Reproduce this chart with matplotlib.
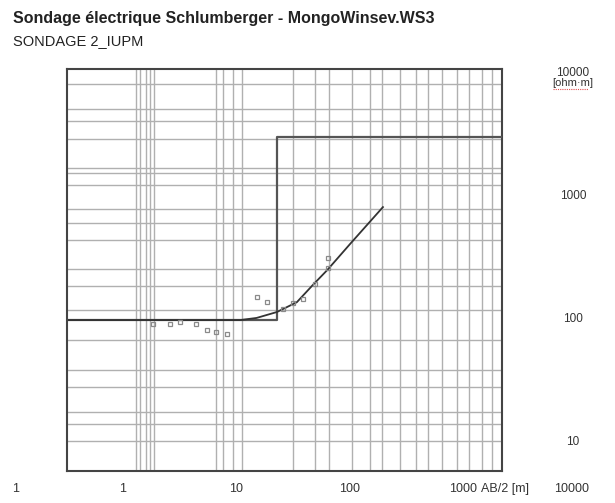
import matplotlib.pyplot as plt
from matplotlib.lines import Line2D

# measured apparent resistivity (AB/2 in m, rho_a in ohm.m)
ab2 = [1.84, 2.6, 3.2, 4.4, 5.5, 6.6, 8.2, 15.2, 18.6, 25.7, 31.5, 38.5, 49, 64, 64]
rho_a = [91, 91, 95, 91, 81, 78, 75, 151, 137, 120, 135, 146, 193, 260, 313]

# calculated sounding curve
curve_x = [0.33, 1, 3, 8, 10.7, 15, 22.7, 34, 47, 63, 100, 195]
curve_y = [98, 98, 98, 98, 98, 102, 114, 137, 189, 250, 407, 813]

# two layer model
layer_rho = [98, 3000]
layer_depth = [22.7]

# grid lines as drawn by the software
grid_x = [1.30, 1.41, 1.59, 1.73, 1.88, 6.6, 7.6, 9.32, 11.2, 31.5, 49.2, 65.3,
          104, 150, 191, 276, 381, 487, 647, 876, 1118, 1456, 1783]
grid_y = [8140, 5090, 4070, 2905, 1690, 1540, 1230, 784, 603, 439, 255, 185,
          118, 67.4, 38.5, 28, 17.5, 14.0, 10.2]

x_labels = ["1", "1", "10", "100", "1000", "10000"]
x_label_pos = [0.112, 1, 10, 100, 1000, 9040]
y_labels = ["10000", "1000", "100", "10"]
y_label_pos = [10000, 1000, 100, 10]

plt.rcParams["font.family"] = ["Liberation Sans Narrow", "Liberation Sans", "DejaVu Sans"]

fig = plt.figure(figsize=(6.15, 5.03), dpi=100)
W, H = 615, 503
ax = fig.add_axes([67 / W, 1 - 471 / H, (502 - 67) / W, (471 - 69) / H])
ax.set_xscale("log")
ax.set_yscale("log")
xmin, xmax = 0.321, 2183
ax.set_xlim(xmin, xmax)
ax.set_ylim(5.81, 10790)

for gx in grid_x:
    ax.axvline(gx, color="#b0b0b0", lw=1.0, zorder=1)
for gy in grid_y:
    ax.axhline(gy, color="#b0b0b0", lw=1.0, zorder=1)

# model
mx = [xmin, layer_depth[0], layer_depth[0], xmax]
my = [layer_rho[0], layer_rho[0], layer_rho[1], layer_rho[1]]
ax.plot(mx, my, color="#555555", lw=1.6, zorder=3)

ax.plot(curve_x, curve_y, color="#333333", lw=1.3, zorder=4)
ax.plot(ab2, rho_a, ls="none", marker="s", ms=3.5, mfc="none",
        mec="#8a8a8a", mew=0.9, zorder=5)

ax.set_xticks([])
ax.set_yticks([])
ax.minorticks_off()
for s in ax.spines.values():
    s.set_color("#444444")
    s.set_linewidth(1.5)

xt = ax.get_xaxis_transform()
for lab, pos in zip(x_labels, x_label_pos):
    ax.text(pos, -0.045, lab, transform=xt, ha="center", va="center",
            fontsize=9, color="#333333", clip_on=False)
ax.text(2320, -0.045, "AB/2 [m]", transform=xt, ha="center",
        va="center", fontsize=9, color="#333333", clip_on=False)

yt = ax.get_yaxis_transform()
for lab, pos in zip(y_labels, y_label_pos):
    ax.text(1.163, pos, lab, transform=yt, ha="center", va="center",
            fontsize=8.5, color="#333333", clip_on=False)
ax.text(1.163, 10 ** 3.92, "[ohm\u00b7m]", transform=yt, ha="center",
        va="center", fontsize=8, color="#333333", clip_on=False)
fig.add_artist(Line2D([553 / W, 588 / W], [1 - 89 / H, 1 - 89 / H],
                      color="#e05050", lw=0.8, ls=(0, (1, 1))))

fig.text(13 / W, 1 - 19 / H, "Sondage électrique Schlumberger - MongoWinsev.WS3",
         fontsize=11.5, fontweight="bold", color="#222222", va="center")
fig.text(13 / W, 1 - 41 / H, "SONDAGE 2_IUPM", fontsize=10.5,
         color="#222222", va="center")

fig.savefig("out.png", dpi=100)
